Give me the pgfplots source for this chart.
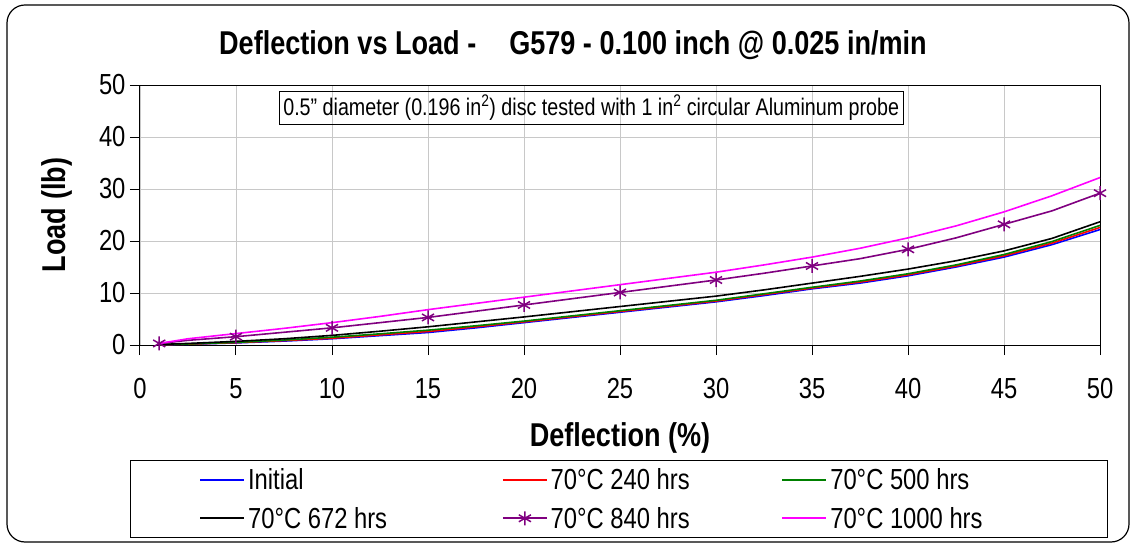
\documentclass[border=0pt]{standalone}
\usepackage{fontspec}
\setmainfont{Liberation Sans}[FakeStretch=0.82]
\usepackage{pgfplots}
\pgfplotsset{compat=1.18}
\definecolor{c0}{RGB}{0,0,255}
\definecolor{c240}{RGB}{255,0,0}
\definecolor{c500}{RGB}{0,128,0}
\definecolor{c672}{RGB}{0,0,0}
\definecolor{c840}{RGB}{128,0,128}
\definecolor{c1000}{RGB}{255,0,255}
\definecolor{gridc}{RGB}{200,200,200}
\definecolor{boxc}{RGB}{100,100,100}
% legend text boxes, one width per legend column
\newcommand{\lwa}[1]{\makebox[231pt][l]{#1}}
\newcommand{\lwb}[1]{\makebox[208pt][l]{#1}}
\newcommand{\lwc}[1]{\makebox[205pt][l]{#1}}

\begin{document}
\begin{tikzpicture}
\useasboundingbox (-140pt,-201pt) rectangle (993pt,345pt);
\draw[line width=1.2pt, rounded corners=18pt] (-133pt,-197pt) rectangle (989pt,340pt);
\begin{axis}[
    at={(0,0)}, anchor=origin,
    scale only axis,
    width=960pt, height=260pt,
    xmin=0, xmax=50, ymin=0, ymax=50,
    xtick={0,5,...,50}, ytick={0,10,...,50},
    axis line style={draw=boxc, line width=1pt},
    separate axis lines,
    x axis line style={draw=black},
    y axis line style={draw=black},
    tick align=outside, major tick length=10pt,
    tick style={black, line width=1pt},
    xtick pos=bottom, ytick pos=left,
    grid=major,
    major grid style={draw=gridc, line width=0.9pt},
    tick label style={font=\fontsize{29}{31}\selectfont},
    /pgf/number format/assume math mode=true,
    xticklabel style={yshift=-20pt},
    yticklabel style={xshift=-1pt},
    xlabel={\textbf{Deflection (\%)}},
    ylabel={\textbf{Load (lb)}},
    label style={font=\fontsize{33}{35}\selectfont},
    xlabel style={at={(axis description cs:0.5,-0.358)}, anchor=center},
    ylabel style={at={(axis description cs:-0.0865,0.5)}, anchor=center},
    legend columns=3,
    legend style={at={(-10pt,-115pt)}, anchor=north west,
        font=\fontsize{29}{31}\selectfont,
        line width=1pt,
        inner xsep=69pt, inner ysep=5pt,
        nodes={inner sep=3pt},
        /tikz/every even column/.append style={column sep=20pt},
        row sep=10pt},
    legend cell align=left,
    legend image code/.code={
        \draw[mark repeat=2, mark phase=2, line width=1.6pt, #1] plot coordinates {(0pt,0pt) (22pt,0pt) (44pt,0pt)};
    },
    clip=false,
]
\addplot[color=c0, line width=1.6pt] coordinates {(1,0.05) (2.5,0.15) (5,0.4) (7.5,0.75) (10,1.2) (12.5,1.8) (15,2.4) (17.5,3.3) (20,4.3) (22.5,5.3) (25,6.3) (27.5,7.3) (30,8.3) (32.5,9.5) (35,10.8) (37.5,11.9) (40,13.3) (42.5,15.0) (45,16.9) (47.5,19.3) (50,22.2)};
\addlegendentry{\lwa{Initial}}
\addplot[color=c240, line width=1.6pt] coordinates {(1,0.05) (2.5,0.17) (5,0.45) (7.5,0.85) (10,1.3) (12.5,1.95) (15,2.6) (17.5,3.5) (20,4.45) (22.5,5.45) (25,6.45) (27.5,7.45) (30,8.45) (32.5,9.7) (35,10.95) (37.5,12.1) (40,13.5) (42.5,15.2) (45,17.15) (47.5,19.6) (50,22.6)};
\addlegendentry{\lwb{70°C 240 hrs}}
\addplot[color=c500, line width=1.6pt] coordinates {(1,0.05) (2.5,0.2) (5,0.5) (7.5,0.95) (10,1.5) (12.5,2.15) (15,2.85) (17.5,3.7) (20,4.6) (22.5,5.6) (25,6.6) (27.5,7.6) (30,8.6) (32.5,9.85) (35,11.1) (37.5,12.3) (40,13.7) (42.5,15.4) (45,17.4) (47.5,19.9) (50,23.0)};
\addlegendentry{\lwc{70°C 500 hrs}}
\addplot[color=c672, line width=1.6pt] coordinates {(1,0.1) (2.5,0.3) (5,0.7) (7.5,1.2) (10,1.85) (12.5,2.65) (15,3.5) (17.5,4.45) (20,5.4) (22.5,6.4) (25,7.4) (27.5,8.4) (30,9.4) (32.5,10.6) (35,11.9) (37.5,13.2) (40,14.6) (42.5,16.2) (45,18.1) (47.5,20.5) (50,23.7)};
\addlegendentry{\lwa{70°C 672 hrs}}
\addplot[color=c840, line width=1.6pt, mark=asterisk, mark size=7pt, mark repeat=2, mark phase=1, mark options={line width=1.5pt}] coordinates {(1,0.3) (2.5,0.9) (5,1.6) (7.5,2.45) (10,3.3) (12.5,4.3) (15,5.3) (17.5,6.5) (20,7.7) (22.5,8.9) (25,10.1) (27.5,11.3) (30,12.5) (32.5,13.8) (35,15.2) (37.5,16.6) (40,18.4) (42.5,20.6) (45,23.2) (47.5,25.8) (50,29.2)};
\addlegendentry{\lwb{70°C 840 hrs}}
\addplot[color=c1000, line width=1.6pt] coordinates {(1,0.3) (2.5,1.2) (5,2.2) (7.5,3.2) (10,4.3) (12.5,5.5) (15,6.8) (17.5,8.0) (20,9.2) (22.5,10.4) (25,11.6) (27.5,12.8) (30,14.0) (32.5,15.4) (35,16.9) (37.5,18.6) (40,20.6) (42.5,22.9) (45,25.6) (47.5,28.7) (50,32.2)};
\addlegendentry{\lwc{70°C 1000 hrs}}
\node[draw=black, line width=1pt, inner sep=4pt, font=\fontsize{24}{26}\selectfont] at (axis cs:23.5,45.6) {0.5" diameter (0.196 in\textsuperscript{2}) disc tested with 1 in\textsuperscript{2} circular Aluminum probe};
\node[font=\bfseries\fontsize{33}{35}\selectfont] at (rel axis cs:0.451,1.154) {Deflection vs Load -\hspace{1em}G579 - 0.100 inch @ 0.025 in/min};
\end{axis}
\end{tikzpicture}
\end{document}
